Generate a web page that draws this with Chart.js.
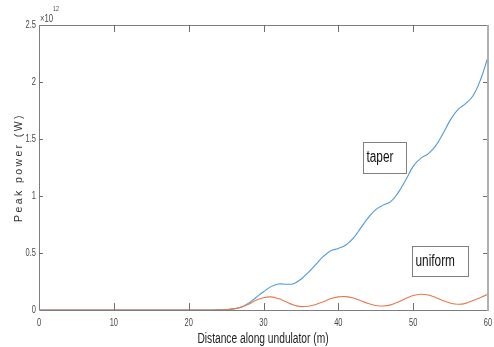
<!DOCTYPE html>
<html>
<head>
<meta charset="utf-8">
<script src="https://cdn.jsdelivr.net/npm/chart.js@4"></script>
<style>
html,body{margin:0;padding:0;background:#fff}
#wrap{width:494px;height:347px}
</style>
</head>
<body>
<div id="wrap"><canvas id="c" width="494" height="347"></canvas></div>
<script>
// distance along the undulator (m)
const distance = [0,1,2,3,4,5,6,7,8,9,10,11,12,13,14,15,16,17,18,19,20,
  21,22,23,24,25,26,27,28,29,30,31,32,33,34,35,36,37,38,39,40,
  41,42,43,44,45,46,47,48,49,50,51,52,53,54,55,56,57,58,59,60];
// peak power, units of 1e12 W
const taper = [0,0,0,0,0,0,0,0,0,0,0,0,0,0,0,0,0,0,0,0,0,
  0,0,0,0.001,0.004,0.01,0.025,0.06,0.11,0.16,0.205,0.228,0.226,0.23,0.27,0.33,0.4,0.47,0.52,0.54,
  0.57,0.63,0.72,0.81,0.88,0.92,0.95,1.03,1.14,1.26,1.33,1.37,1.44,1.55,1.67,1.76,1.81,1.88,2.02,2.22];
const uniform = [0,0,0,0,0,0,0,0,0,0,0,0,0,0,0,0,0,0,0,0,0,
  0,0,0,0.001,0.004,0.01,0.025,0.05,0.085,0.108,0.115,0.1,0.072,0.045,0.03,0.033,0.048,0.073,0.1,0.115,
  0.117,0.105,0.082,0.057,0.04,0.035,0.045,0.07,0.1,0.127,0.138,0.132,0.11,0.082,0.06,0.05,0.058,0.083,0.11,0.138];
const xTicks = [0,10,20,30,40,50,60];
const yTicks = [0,0.5,1,1.5,2,2.5];
const exponent = '12';

const sans = 'Liberation Sans, Arial, sans-serif';

// no narrow font installed, so squeeze text horizontally
function squeezed(ctx, str, x, y, size, align, baseline, sx, color) {
  ctx.save();
  ctx.font = size + 'px ' + sans;
  ctx.fillStyle = color;
  ctx.textBaseline = baseline;
  ctx.textAlign = 'left';
  const w = ctx.measureText(str).width * sx;
  let x0 = x;
  if (align === 'center') x0 = x - w / 2;
  else if (align === 'right') x0 = x - w;
  ctx.translate(x0, y);
  ctx.scale(sx, 1);
  ctx.fillText(str, 0, 0);
  ctx.restore();
}

const framePlugin = {
  id: 'frame',
  afterDraw(chart) {
    const {ctx, chartArea: a, scales: {x, y}} = chart;
    ctx.save();
    ctx.lineWidth = 1;
    // box
    ctx.strokeStyle = '#7d7d7d';
    ctx.beginPath();
    ctx.moveTo(a.left + 0.5, a.top + 0.5);
    ctx.lineTo(a.left + 0.5, a.bottom + 0.5);
    ctx.lineTo(a.right, a.bottom + 0.5);
    ctx.moveTo(a.left, a.top + 0.5);
    ctx.lineTo(a.right, a.top + 0.5);
    ctx.stroke();
    ctx.strokeStyle = '#b0b0b0';
    ctx.lineWidth = 2;
    ctx.beginPath();
    ctx.moveTo(a.right, a.top);
    ctx.lineTo(a.right, a.bottom + 1);
    ctx.stroke();
    // inward ticks
    ctx.lineWidth = 1;
    ctx.strokeStyle = '#6e6e6e';
    ctx.beginPath();
    xTicks.forEach(v => {
      const px = Math.round(x.getPixelForValue(v)) + 0.5;
      if (v === 0 || v === 60) return;
      ctx.moveTo(px, a.bottom); ctx.lineTo(px, a.bottom - 7);
      ctx.moveTo(px, a.top); ctx.lineTo(px, a.top + 7);
    });
    yTicks.forEach(v => {
      const py = Math.round(y.getPixelForValue(v)) + 0.5;
      if (v === 0 || v === 2.5) return;
      ctx.moveTo(a.left, py); ctx.lineTo(a.left + 4, py);
      ctx.moveTo(a.right - 1, py); ctx.lineTo(a.right - 5, py);
    });
    ctx.stroke();

    // tick labels
    xTicks.forEach(v => {
      squeezed(ctx, String(v), x.getPixelForValue(v), a.bottom + 13, 11, 'center', 'middle', 0.68, '#444');
    });
    yTicks.forEach(v => {
      squeezed(ctx, String(v), a.left - 3, y.getPixelForValue(v), 11, 'right', 'middle', 0.68, '#444');
    });

    // axis titles
    squeezed(ctx, 'Distance along undulator (m)', (a.left + a.right) / 2 - 0.5, 339, 14, 'center', 'middle', 0.73, '#222');

    ctx.save();
    ctx.translate(19, (a.top + a.bottom) / 2);
    ctx.rotate(-Math.PI / 2);
    ctx.font = '10.5px ' + sans;
    ctx.letterSpacing = '2.4px';
    ctx.fillStyle = '#333';
    ctx.textAlign = 'center';
    ctx.textBaseline = 'middle';
    ctx.fillText('Peak power (W)', 0, 0);
    ctx.restore();

    // exponent
    squeezed(ctx, '\u00d710', a.left + 1, a.top - 3, 11, 'left', 'alphabetic', 0.7, '#444');
    squeezed(ctx, exponent, a.left + 14, a.top - 14, 7.5, 'left', 'alphabetic', 0.7, '#444');

    // annotation boxes
    const notes = [
      {text: 'taper', x: 43.3, y: 1.476, w: 43, h: 31},
      {text: 'uniform', x: 49.8, y: 0.564, w: 56, h: 30}
    ];
    notes.forEach(n => {
      const bx = Math.round(x.getPixelForValue(n.x)) + 0.5;
      const by = Math.round(y.getPixelForValue(n.y)) + 0.5;
      ctx.fillStyle = '#fff';
      ctx.fillRect(bx, by, n.w, n.h);
      ctx.strokeStyle = '#808080';
      ctx.lineWidth = 1;
      ctx.strokeRect(bx, by, n.w, n.h);
      squeezed(ctx, n.text, bx + 3, by + n.h / 2, 16, 'left', 'middle', 0.74, '#111');
    });
    ctx.restore();
  }
};

new Chart(document.getElementById('c'), {
  type: 'line',
  data: {
    datasets: [
      {
        label: 'taper',
        data: distance.map((d, i) => ({x: d, y: taper[i]})),
        borderColor: '#4d9ad8',
        borderWidth: 1.1,
        pointRadius: 0,
        tension: 0.4,
        fill: false,
        order: 1
      },
      {
        label: 'uniform',
        data: distance.map((d, i) => ({x: d, y: uniform[i]})),
        borderColor: '#e27b50',
        borderWidth: 1.1,
        pointRadius: 0,
        tension: 0.4,
        fill: false,
        order: 0
      }
    ]
  },
  options: {
    responsive: false,
    animation: false,
    layout: {padding: {top: 25, right: 6, left: 0, bottom: 0}},
    plugins: {legend: {display: false}, tooltip: {enabled: false}},
    scales: {
      x: {
        type: 'linear',
        min: 0, max: 60,
        afterBuildTicks: s => { s.ticks = xTicks.map(v => ({value: v})); },
        grid: {display: false, drawTicks: false},
        border: {display: false},
        ticks: {display: false},
        afterFit: s => { s.height = 37; }
      },
      y: {
        type: 'linear',
        min: 0, max: 2.5,
        afterBuildTicks: s => { s.ticks = yTicks.map(v => ({value: v})); },
        grid: {display: false, drawTicks: false},
        border: {display: false},
        ticks: {display: false},
        afterFit: s => { s.width = 39; }
      }
    }
  },
  plugins: [framePlugin]
});
</script>
</body>
</html>
